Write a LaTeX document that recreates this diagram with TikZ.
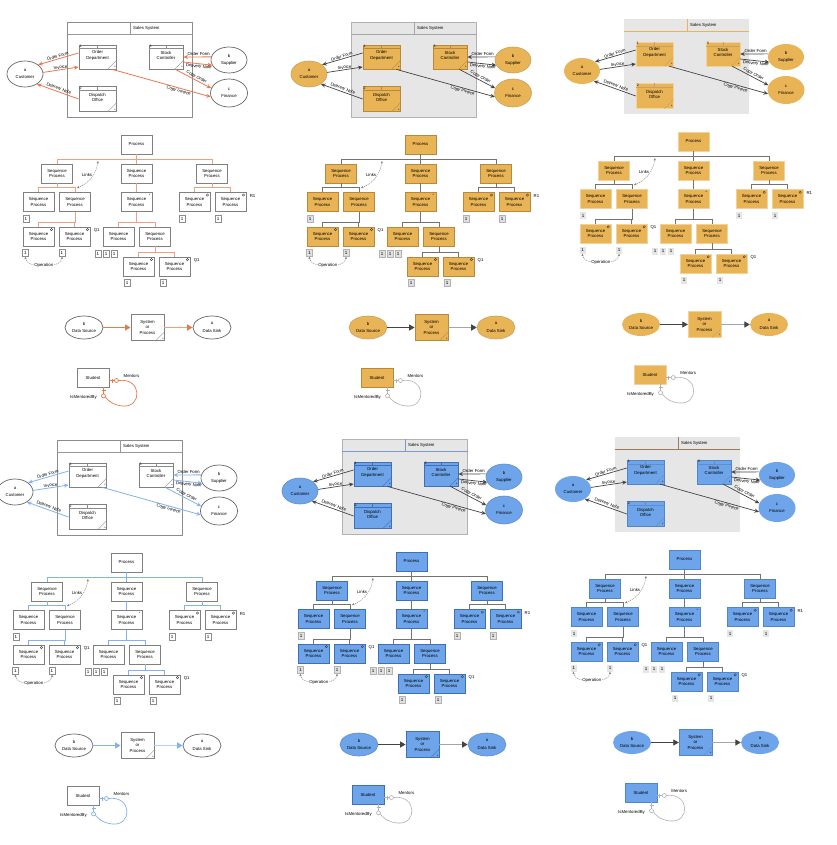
\documentclass[tikz,border=0pt]{standalone}
\usepackage{fontspec}
\setmainfont{Liberation Sans}
\usetikzlibrary{arrows.meta,calc,shapes.geometric}

\definecolor{gold}{HTML}{E9B455}
\definecolor{goldd}{HTML}{B8893C}
\definecolor{bluef}{HTML}{6EA4EA}
\definecolor{blued}{HTML}{3F6FB5}
\definecolor{orl}{HTML}{E8794B}
\definecolor{orlt}{HTML}{F0A07E}
\definecolor{bll}{HTML}{82B2F0}
\definecolor{ssg}{HTML}{E6E6E6}
\definecolor{dk}{HTML}{444444}
\definecolor{brn}{HTML}{9C7B5B}

\tikzset{
 txt/.style={font=\fontsize{4.3}{5.3}\selectfont, align=center, inner sep=0pt},
 etx/.style={font=\fontsize{4.3}{7.5}\selectfont, align=center, inner sep=0pt},
 lab/.style={font=\fontsize{4.3}{5}\selectfont, inner sep=0.6pt},
 tinyt/.style={font=\fontsize{3.5}{3.5}\selectfont, inner sep=0.6pt},
 lnk/.style={draw=black!50, line width=0.4pt, dash pattern=on 1.2pt off 0.8pt,
   {Stealth[length=2.5pt,width=2.2pt]}-{Stealth[length=2.5pt,width=2.2pt]}},
 mk/.style={draw=black!80, line width=0.35pt},
 tn/.style={proc, txt, minimum width=31pt, minimum height=19pt},
 ob/.style={onebox, font=\fontsize{4.5}{5}\selectfont, minimum width=6pt, minimum height=7pt, inner sep=0pt},
 darkflows/.style={
   flow/.style={draw=dk, line width=0.7pt, -{Stealth[length=4.5pt,width=4pt]}},
   dflowA/.style={draw=dk, line width=0.8pt, -{Triangle[length=5.5pt,width=6pt]}},
   dflowB/.style={draw=black!35, line width=1.6pt, -{Triangle[length=5.5pt,width=6pt,color=dk]}},
   tree/.style={draw=black!55, line width=0.8pt},
   loopc/.style={draw=black!30, line width=0.6pt}},
 theme1/.style={
   ssbox/.style={fill=white, draw=black!45, line width=0.8pt},
   sshdr/.style={draw=black!40, line width=0.5pt},
   proc/.style={fill=white, draw=black!50, line width=0.9pt},
   hdr/.style={draw=black!45, line width=0.35pt},
   ext/.style={fill=white, draw=black!60, line width=0.7pt},
   flow/.style={draw=orl, line width=0.8pt, -{Stealth[length=4.5pt,width=4pt]}},
   dflowA/.style={draw=orl, line width=1.2pt, -{Triangle[length=5.5pt,width=6pt]}},
   dflowB/.style={draw=orlt, line width=1.6pt, -{Triangle[length=5.5pt,width=6pt,color=orl]}},
   tree/.style={draw=orlt, line width=0.8pt},
   onebox/.style={fill=white, draw=black!45, line width=0.4pt},
   loopc/.style={draw=orl, line width=0.7pt}},
 theme4/.style={
   ssbox/.style={fill=white, draw=black!45, line width=0.8pt},
   sshdr/.style={draw=black!40, line width=0.5pt},
   proc/.style={fill=white, draw=black!50, line width=0.9pt},
   hdr/.style={draw=black!45, line width=0.35pt},
   ext/.style={fill=white, draw=black!60, line width=0.7pt},
   flow/.style={draw=bll, line width=0.8pt, -{Stealth[length=4.5pt,width=4pt]}},
   dflowA/.style={draw=bll, line width=1.2pt, -{Triangle[length=5.5pt,width=6pt]}},
   dflowB/.style={draw=bll!60, line width=1.6pt, -{Triangle[length=5.5pt,width=6pt,color=bll]}},
   tree/.style={draw=bll, line width=0.8pt},
   onebox/.style={fill=white, draw=black!45, line width=0.4pt},
   loopc/.style={draw=bll, line width=0.7pt}},
 theme2/.style={darkflows,
   ssbox/.style={fill=ssg, draw=black!30, line width=0.8pt},
   sshdr/.style={draw=black!35, line width=0.5pt},
   proc/.style={fill=gold, draw=goldd, line width=0.8pt},
   hdr/.style={draw=goldd, line width=0.35pt},
   ext/.style={fill=gold, draw=goldd!80, line width=0.6pt},
   onebox/.style={fill=black!12, draw=black!30, line width=0.4pt}},
 theme3/.style={darkflows,
   ssbox/.style={fill=ssg, draw=none},
   sshdr/.style={draw=gold, line width=0.6pt},
   proc/.style={fill=gold, draw=gold!60!white, line width=0.4pt},
   hdr/.style={draw=goldd!80, line width=0.35pt},
   ext/.style={fill=gold, draw=none},
   onebox/.style={fill=black!10, draw=none}},
 theme5/.style={darkflows,
   ssbox/.style={fill=ssg, draw=black!30, line width=0.8pt},
   sshdr/.style={draw=blued!70, line width=0.5pt},
   proc/.style={fill=bluef, draw=blued, line width=0.8pt},
   hdr/.style={draw=blued, line width=0.35pt},
   ext/.style={fill=bluef, draw=blued!80, line width=0.6pt},
   onebox/.style={fill=black!12, draw=black!30, line width=0.4pt}},
 theme6/.style={darkflows,
   ssbox/.style={fill=ssg, draw=none},
   sshdr/.style={draw=brn, line width=0.6pt},
   proc/.style={fill=bluef, draw=blued!60!bluef, line width=0.4pt},
   hdr/.style={draw=blued!80, line width=0.35pt},
   ext/.style={fill=bluef, draw=none},
   onebox/.style={fill=black!10, draw=none}},
}

\newcommand\sproc[7]{%
 \node[proc, minimum width=#4pt, minimum height=#5pt, inner sep=0pt] (#1) at (#2,#3) {};
 \node[txt] at ([yshift=1.5pt]#1.center) {#7};
 \draw[hdr] ([yshift=-4pt]#1.north west) -- ([yshift=-4pt]#1.north east);
 \draw[hdr] (#1.north) -- ([yshift=-4pt]#1.north);
 \node[tinyt, anchor=north west, inner sep=0.4pt] at ([xshift=0.5pt]#1.north west) {#6};
 \draw[hdr] ([xshift=-9pt]#1.south east) -- ([yshift=9pt]#1.south east);
 \node[tinyt, anchor=south east] at (#1.south east) {*};
}
\newcommand\mkcirc[1]{\draw[mk] ([xshift=-3pt,yshift=-3pt]#1.north east) circle (1.2pt);}
\newcommand\mkstar[1]{\node[tinyt] at ([xshift=-3pt,yshift=-3pt]#1.north east) {*};}
\newcommand\tedge[2]{\draw[tree] (#1.south) |- ([yshift=4.5pt]#2.north) -- (#2.north);}

\newcommand\panelbody{%
 % ---- Sales System ----
 \node[ssbox, minimum width=125pt, minimum height=95pt, anchor=north west, inner sep=0pt] (ss) at (67,22) {};
 \draw[sshdr] ([yshift=-12pt]ss.north west) -- ([yshift=-12pt]ss.north east);
 \draw[sshdr] ([xshift=63pt]ss.north west) -- ([xshift=63pt,yshift=-12pt]ss.north west);
 \node[txt, anchor=west] (sst) at ([xshift=66pt,yshift=-6pt]ss.north west) {Sales System};
 \sproc{od}{97.5}{57}{37}{24}{1}{Order\\Department}
 \sproc{do}{97.5}{99}{37}{25}{2}{Dispatch\\Office}
 \sproc{sc}{166}{57}{34}{24}{3}{Stock\\Controller}
 \node[ext, ellipse, etx, minimum width=36pt, minimum height=26pt] (cu) at (25,74) {a\\Customer};
 \node[ext, ellipse, etx, minimum width=36pt, minimum height=26pt] (su) at (229,60) {b\\Supplier};
 \node[ext, ellipse, etx, minimum width=37pt, minimum height=28pt] (fi) at (229,93) {c\\Finance};
 \draw[flow] ([yshift=4pt]od.west) -- node[lab, sloped, above] {Order Form} (cu.35);
 \draw[flow] (cu.5) -- node[lab, sloped, above] {Invoice} ([yshift=-10pt]od.west);
 \draw[flow] (do.west) -- node[lab, sloped, above] {Delivery Note} (cu.-40);
 \draw[flow] (su.170) -- node[lab, above, pos=0.45] {Order Form} (sc.east);
 \draw[flow] ([yshift=-5pt]sc.east) -- node[lab, sloped, below, pos=0.55] {Delivery Note} (su.197);
 \draw[flow] ([xshift=-8pt]sc.south east) -- node[lab, sloped, above, pos=0.55] {Copy Order} (fi.165);
 \draw[flow] ([xshift=-4pt]od.south east) -- node[lab, sloped, below, pos=0.68] {Copy Invoice} (fi.192);
 % ---- Process tree ----
 \node[tn] (pr) at (136.5,144.5) {Process};
 \node[tn] (s1) at (57,173.5) {Sequence\\Process};
 \node[tn] (s2) at (136.5,173.5) {Sequence\\Process};
 \node[tn] (s3) at (212,173.5) {Sequence\\Process};
 \node[tn] (s1a) at (38.5,202) {Sequence\\Process};
 \node[tn] (s1b) at (75,202) {Sequence\\Process};
 \node[tn] (s2a) at (136.5,202) {Sequence\\Process};
 \node[tn] (s3a) at (194.5,202) {Sequence\\Process};
 \node[tn] (s3b) at (230.5,202) {Sequence\\Process};
 \node[tn] (s1b1) at (38.5,236.5) {Sequence\\Process};
 \node[tn] (s1b2) at (74.5,236.5) {Sequence\\Process};
 \node[tn] (s2a1) at (118.5,236.5) {Sequence\\Process};
 \node[tn] (s2a2) at (155,236.5) {Sequence\\Process};
 \node[tn] (s2a2a) at (138.5,266.5) {Sequence\\Process};
 \node[tn] (s2a2b) at (174.5,266.5) {Sequence\\Process};
 \tedge{pr}{s1}\tedge{pr}{s2}\tedge{pr}{s3}
 \tedge{s1}{s1a}\tedge{s1}{s1b}\tedge{s2}{s2a}\tedge{s3}{s3a}\tedge{s3}{s3b}
 \tedge{s1b}{s1b1}\tedge{s1b}{s1b2}\tedge{s2a}{s2a1}\tedge{s2a}{s2a2}
 \tedge{s2a2}{s2a2a}\tedge{s2a2}{s2a2b}
 \mkcirc{s1b1}\mkcirc{s1b2}\mkcirc{s3a}\mkcirc{s3b}\mkcirc{s2a2a}\mkcirc{s2a2b}
 \mkstar{s2a}
 \node[lab, anchor=west] at ([xshift=2.5pt,yshift=-4pt]s1b2.north east) {Q1};
 \node[lab, anchor=west] at ([xshift=2.5pt,yshift=-3.5pt]s3b.north east) {R1};
 \node[lab, anchor=west] at ([xshift=2.5pt,yshift=-4pt]s2a2b.north east) {Q1};
 \node[ob] (o1) at (26,218.5) {1};
 \node[ob] (o2) at (182,218.5) {1};
 \node[ob] (o3) at (218,218.5) {1};
 \node[ob] (o4) at (25.5,253) {1};
 \node[ob] (o5) at (62,253) {1};
 \node[ob] (o6) at (98,254) {1};
 \node[ob] (o7) at (106,254) {1};
 \node[ob] (o8) at (114,254) {1};
 \node[ob] (o9) at (127,283) {1};
 \node[ob] (o10) at (163,283) {1};
 \coordinate (lk1) at (98,161);
 \coordinate (lk2) at (77,188);
 \draw[lnk] (lk1) to[bend left=30] node[lab, pos=0.4, left=0.5pt] {Links} (lk2);
 \draw[lnk] (o4.south) .. controls +(0,12) and +(0,12) .. node[lab, fill=white, pos=0.5] {Operation} (o5.south);
 % ---- Data flow ----
 \node[ext, ellipse, etx, minimum width=38pt, minimum height=23pt] (dsrc) at (84,327.5) {b\\Data Source};
 \node[proc, txt, minimum width=33pt, minimum height=26pt] (sop) at (147.5,327.5) {System\\or\\Process};
 \draw[hdr] ([xshift=-9pt]sop.south east) -- ([yshift=9pt]sop.south east);
 \node[tinyt, anchor=south east] at (sop.south east) {*};
 \node[ext, ellipse, etx, minimum width=38pt, minimum height=23pt] (dsnk) at (212,327.5) {a\\Data Sink};
 \draw[dflowA] (dsrc) -- (sop);
 \draw[dflowB] (sop) -- (dsnk);
 % ---- Student ----
 \node[proc, txt, minimum width=32pt, minimum height=19pt] (stu) at (93,377.5) {Student};
 \draw[loopc] ($(stu.east)+(0,3)$) -- ($(stu.east)+(5,3)$);
 \draw[loopc] ($(stu.east)+(2.5,1)$) -- ($(stu.east)+(2.5,5)$);
 \draw[loopc] ($(stu.east)+(7,3)$) circle (2pt);
 \draw[loopc] ($(stu.east)+(9,3)$) .. controls ($(stu.east)+(33,0)$) and ($(stu.east)+(33,30.5)$) .. ($(stu.east)+(13,28.5)$)
   .. controls ($(stu.east)+(3,27.5)$) and ($(stu.east)+(-2,22.5)$) .. ($(stu.south)+(12.3,9.5)$);
 \draw[loopc] ($(stu.south)+(10.5,8.5)$) circle (2pt);
 \draw[loopc] (stu.south -| {$(stu.south)+(10.5,0)$}) -- ($(stu.south)+(10.5,6.5)$);
 \draw[loopc] ($(stu.south)+(8.5,3)$) -- ($(stu.south)+(12.5,3)$);
 \node[lab] at ($(stu.east)+(22,-1)$) {Mentors};
 \node[lab] at ($(stu.south)+(-9.5,10)$) {IsMentoredBy};
}

\begin{document}
\begin{tikzpicture}[x=1pt,y=-1pt]
\useasboundingbox (0,0) rectangle (836,845);
\fill[white] (0,0) rectangle (836,845);
\begin{scope}[shift={(0,0)}, name prefix=pa-, theme1]\panelbody\end{scope}
\begin{scope}[shift={(284,0)}, name prefix=pb-, theme2]\panelbody\end{scope}
\begin{scope}[shift={(557,-3)}, name prefix=pc-, theme3]\panelbody\end{scope}
\begin{scope}[shift={(-10,418)}, name prefix=pd-, theme4]\panelbody\end{scope}
\begin{scope}[shift={(275,417)}, name prefix=pe-, theme5]\panelbody\end{scope}
\begin{scope}[shift={(548,415)}, name prefix=pf-, theme6]\panelbody\end{scope}
\end{tikzpicture}
\end{document}
